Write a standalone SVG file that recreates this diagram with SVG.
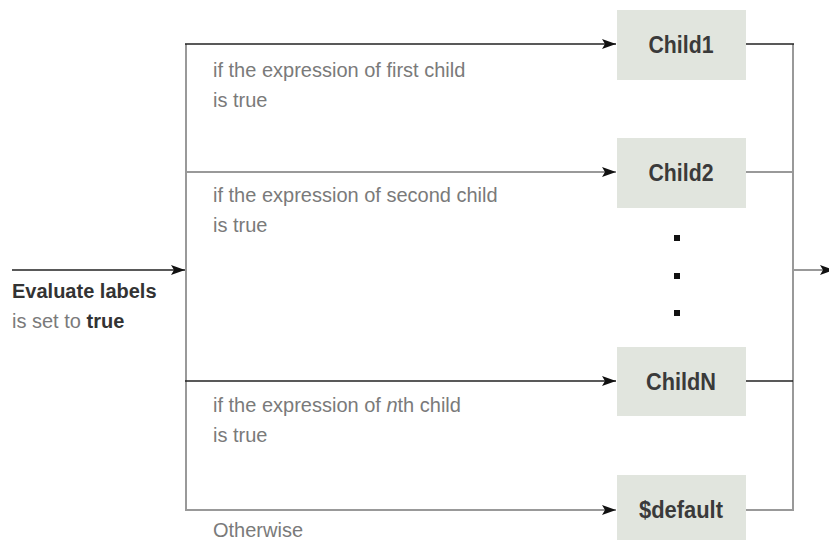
<svg xmlns="http://www.w3.org/2000/svg" width="829" height="540" viewBox="0 0 829 540">
<style>
.box{fill:#e1e5de}
.lbl{font-family:"Liberation Sans",Arial,sans-serif;font-weight:bold;font-size:24px;fill:#3a3a3a;text-anchor:middle}
.cond{font-family:"Liberation Sans",Arial,sans-serif;font-size:20px;fill:#7a7a7a}
.dark{stroke:#222;stroke-width:1.6;fill:none}
.grey{stroke:#999;stroke-width:2;fill:none}
.dot{fill:#111}
</style>
<defs>
<marker id="ah" viewBox="0 0 14 10" refX="14" refY="5" markerWidth="14" markerHeight="10" markerUnits="userSpaceOnUse" orient="auto">
<path d="M0,0 L14,5 L0,10 L3,5 Z" fill="#111"/>
</marker>
</defs>
<g id="connectors">
<line class="dark" x1="12" y1="270" x2="185" y2="270" marker-end="url(#ah)"/>
<line class="grey" x1="186" y1="44" x2="186" y2="511"/>
<line class="dark" x1="185" y1="44" x2="616" y2="44" marker-end="url(#ah)"/>
<line class="grey" x1="185" y1="172" x2="616" y2="172" marker-end="url(#ah)"/>
<line class="dark" x1="185" y1="381" x2="616" y2="381" marker-end="url(#ah)"/>
<line class="grey" x1="185" y1="510" x2="616" y2="510" marker-end="url(#ah)"/>
<line class="grey" x1="793" y1="44" x2="793" y2="511"/>
<line class="dark" x1="746" y1="44" x2="794" y2="44"/>
<line class="grey" x1="746" y1="172" x2="793" y2="172"/>
<line class="dark" x1="746" y1="381" x2="793" y2="381"/>
<line class="grey" x1="746" y1="510" x2="794" y2="510"/>
<line class="grey" x1="793" y1="270" x2="834" y2="270" marker-end="url(#ah)"/>
</g>
<g id="start">
<text x="12" y="298" font-family="Liberation Sans, Arial, sans-serif" font-size="20" font-weight="bold" fill="#333">Evaluate labels</text>
<text x="12" y="328" font-family="Liberation Sans, Arial, sans-serif" font-size="20" fill="#7a7a7a">is set to <tspan font-weight="bold" fill="#333">true</tspan></text>
</g>
<g id="child1">
<rect class="box" x="617" y="10" width="129" height="70"/>
<text class="lbl" x="681" y="53" textLength="65" lengthAdjust="spacingAndGlyphs">Child1</text>
</g>
<g id="child2">
<rect class="box" x="617" y="138" width="129" height="70"/>
<text class="lbl" x="681" y="181" textLength="65" lengthAdjust="spacingAndGlyphs">Child2</text>
</g>
<g id="dots">
<rect class="dot" x="674" y="235" width="6" height="6"/>
<rect class="dot" x="674" y="273" width="6" height="6"/>
<rect class="dot" x="674" y="310" width="6" height="6"/>
</g>
<g id="childN">
<rect class="box" x="617" y="347" width="129" height="69"/>
<text class="lbl" x="681" y="390" textLength="70" lengthAdjust="spacingAndGlyphs">ChildN</text>
</g>
<g id="default">
<rect class="box" x="617" y="475" width="129" height="65"/>
<text class="lbl" x="681" y="518" textLength="84" lengthAdjust="spacingAndGlyphs">$default</text>
</g>
<g id="labels">
<text class="cond" x="213" y="77">if the expression of first child</text>
<text class="cond" x="213" y="107">is true</text>
<text class="cond" x="213" y="202">if the expression of second child</text>
<text class="cond" x="213" y="232">is true</text>
<text class="cond" x="213" y="412">if the expression of <tspan font-style="italic">n</tspan>th child</text>
<text class="cond" x="213" y="442">is true</text>
<text class="cond" x="213" y="537">Otherwise</text>
</g>
</svg>
